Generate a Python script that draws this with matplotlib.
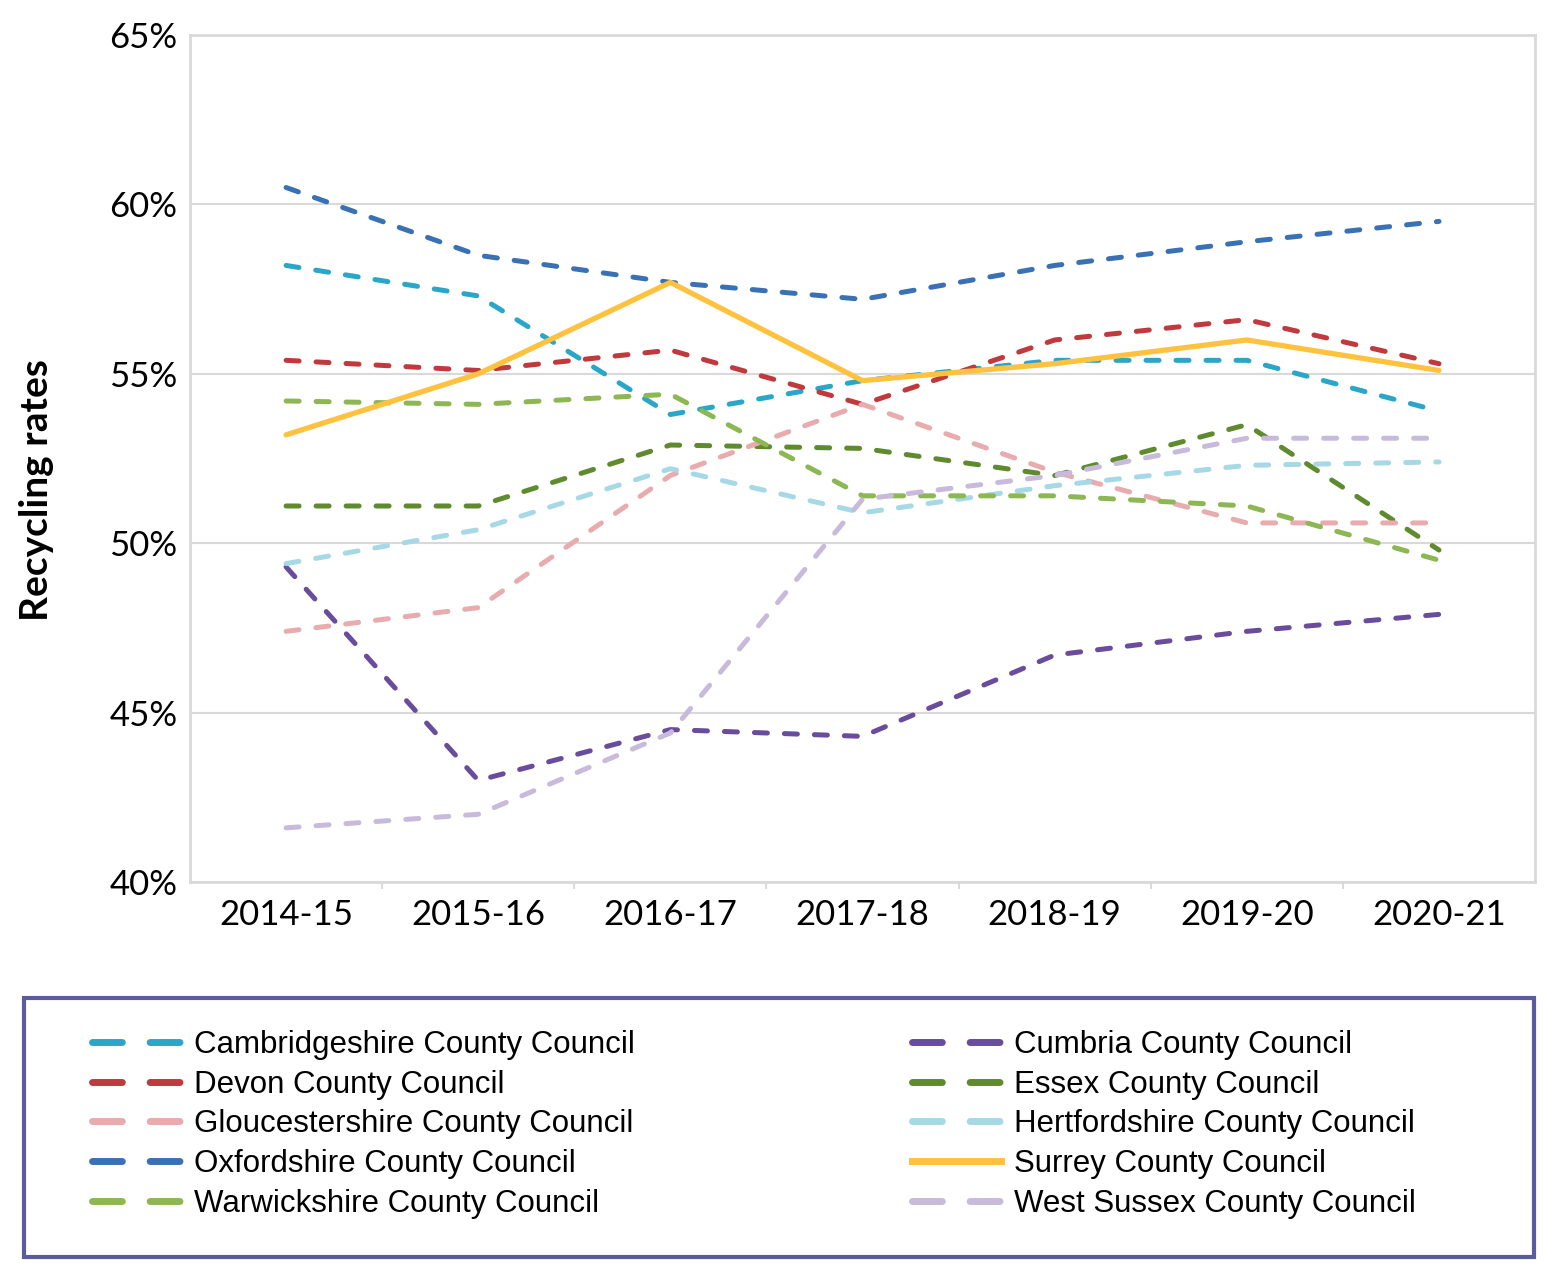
import matplotlib
matplotlib.use("Agg")
import matplotlib.pyplot as plt
from matplotlib.lines import Line2D
from matplotlib.patches import Rectangle
from matplotlib.ticker import FixedLocator, NullFormatter

plt.rcParams['font.family'] = ['Lato', 'DejaVu Sans']

years = ["2014-15", "2015-16", "2016-17", "2017-18", "2018-19", "2019-20", "2020-21"]

# recycling rates (%)
cambridgeshire = [58.2, 57.3, 53.8, 54.8, 55.4, 55.4, 53.9]
cumbria = [49.3, 43.0, 44.5, 44.3, 46.7, 47.4, 47.9]
devon = [55.4, 55.1, 55.7, 54.1, 56.0, 56.6, 55.3]
essex = [51.1, 51.1, 52.9, 52.8, 52.0, 53.5, 49.8]
gloucestershire = [47.4, 48.1, 52.0, 54.1, 52.1, 50.6, 50.6]
hertfordshire = [49.4, 50.4, 52.2, 50.9, 51.7, 52.3, 52.4]
oxfordshire = [60.5, 58.5, 57.7, 57.2, 58.2, 58.9, 59.5]
surrey = [53.2, 55.0, 57.7, 54.8, 55.3, 56.0, 55.1]
warwickshire = [54.2, 54.1, 54.4, 51.4, 51.4, 51.1, 49.5]
west_sussex = [41.6, 42.0, 44.4, 51.3, 52.0, 53.1, 53.1]

names = ["Cambridgeshire County Council", "Cumbria County Council",
         "Devon County Council", "Essex County Council",
         "Gloucestershire County Council", "Hertfordshire County Council",
         "Oxfordshire County Council", "Surrey County Council",
         "Warwickshire County Council", "West Sussex County Council"]
series = [cambridgeshire, cumbria, devon, essex, gloucestershire,
          hertfordshire, oxfordshire, surrey, warwickshire, west_sussex]
colors = ["#2aa6c8", "#6a4c9c", "#c0393d", "#5f8a2e", "#e8abae",
          "#a6d9e5", "#3a71b5", "#fec23e", "#8db753", "#c8bada"]
solid = [False, False, False, False, False, False, False, True, False, False]

fig = plt.figure(figsize=(15.64, 12.8), dpi=100)
ax = fig.add_axes([0.1215, 0.3109, 0.860, 0.6617])

x = list(range(len(years)))
for vals, col, sol in zip(series, colors, solid):
    if sol:
        ax.plot(x, vals, color=col, lw=3.8, solid_capstyle='round', zorder=3)
    else:
        ax.plot(x, vals, color=col, lw=3.6, dashes=(2.6, 3.4),
                dash_capstyle='round', zorder=2)

ax.set_xlim(-0.5, 6.5)
ax.set_ylim(40, 65)
ax.set_yticks([40, 45, 50, 55, 60, 65])
ax.set_yticklabels([f"{v}%" for v in [40, 45, 50, 55, 60, 65]], fontsize=25)
ax.set_xticks(x)
ax.set_xticklabels(years, fontsize=25)
ax.tick_params(axis='x', which='major', length=0, pad=12)
ax.tick_params(axis='y', length=0, pad=9)
ax.xaxis.set_minor_locator(FixedLocator([i + 0.5 for i in range(6)]))
ax.xaxis.set_minor_formatter(NullFormatter())
ax.tick_params(axis='x', which='minor', length=5, width=1.5, color='#d9d9d9')
ax.grid(axis='y', color='#d9d9d9', lw=1.5)
ax.set_axisbelow(True)
for s in ax.spines.values():
    s.set_color('#d9d9d9')
    s.set_linewidth(2)

fig.text(37 / 1564, 1 - 490 / 1280, "Recycling rates", rotation=90,
         ha='center', va='center', fontsize=28, fontweight='bold')

# legend box
fig.patches.append(Rectangle((24 / 1564, 1 - 1257 / 1280), 1510 / 1564, 259 / 1280,
                             transform=fig.transFigure, fill=False,
                             edgecolor='#5b5b9e', lw=3))

def handle(i):
    if solid[i]:
        return Line2D([], [], color=colors[i], lw=5)
    return Line2D([], [], color=colors[i], lw=5, dashes=(4.3, 4), dash_capstyle='round')

left_idx = [0, 2, 4, 6, 8]
right_idx = [1, 3, 5, 7, 9]
leg_font = {'family': ['Liberation Sans Narrow', 'Liberation Sans', 'DejaVu Sans'], 'size': 22.5}
for idx, xpos in [(left_idx, 92), (right_idx, 912)]:
    leg = fig.legend([handle(i) for i in idx], [names[i] for i in idx],
                     loc='upper left', bbox_to_anchor=(xpos / 1564, 1 - 1030 / 1280),
                     frameon=False, borderpad=0, borderaxespad=0,
                     handlelength=2.85, handletextpad=0.42, labelspacing=0.31,
                     prop=leg_font)

fig.savefig("out.png", dpi=100)
